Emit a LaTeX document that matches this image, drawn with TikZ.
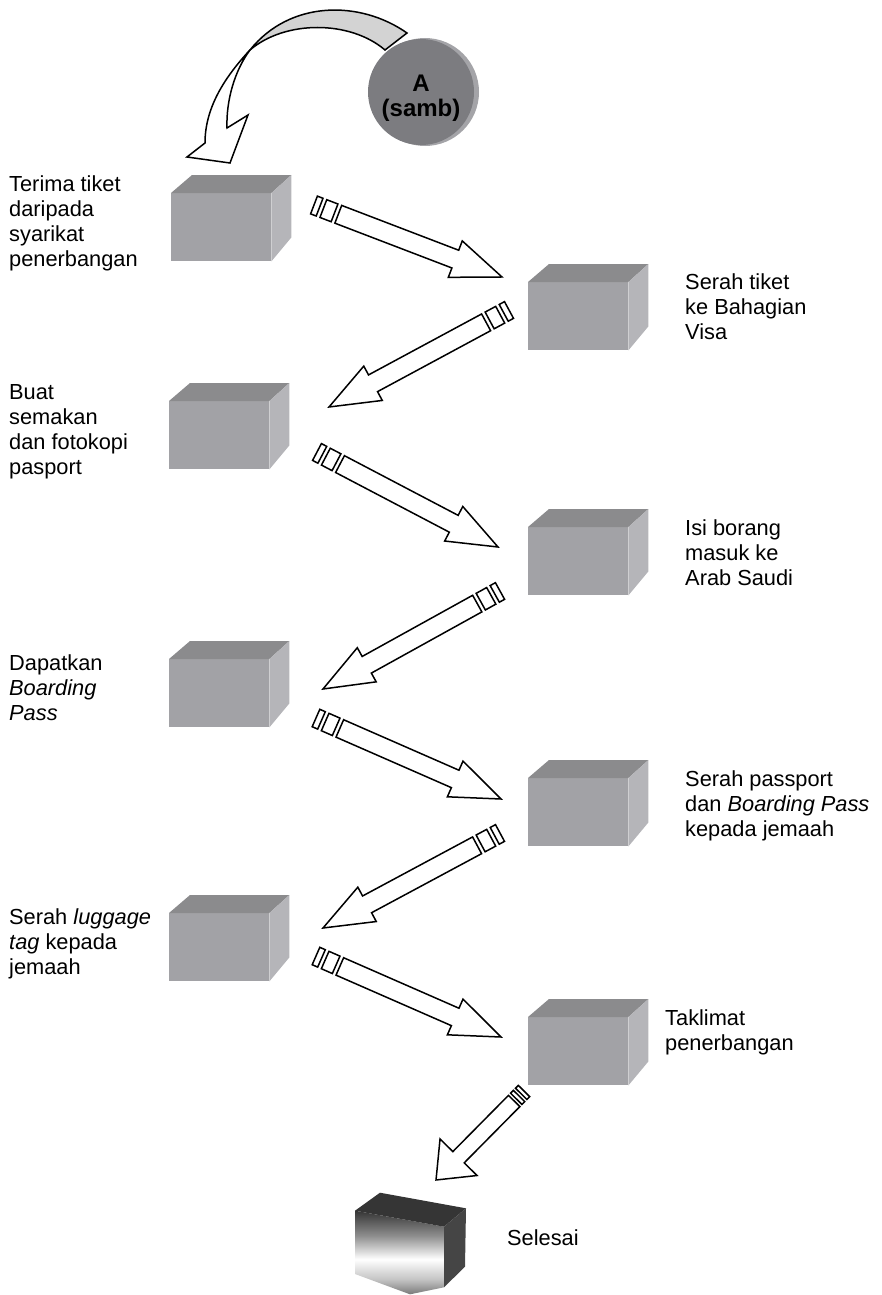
\documentclass[tikz,border=0pt]{standalone}
\usepackage{fontspec}
\setmainfont{Liberation Sans}
\usetikzlibrary{calc}

\definecolor{boxfront}{HTML}{A2A2A6}
\definecolor{boxtop}{HTML}{8B8B8D}
\definecolor{boxside}{HTML}{B5B5B9}
\definecolor{discgray}{HTML}{7C7C80}
\definecolor{discrim}{HTML}{A4A4A8}
\definecolor{ribbon}{HTML}{D3D3D3}
\definecolor{darkface}{HTML}{353535}
\definecolor{finlow}{HTML}{7A7A7A}
\definecolor{finmid}{HTML}{C4C4C4}
\definecolor{finhigh}{HTML}{8E8E8E}

% front face of the closing box: dark top, white band, grey foot
\pgfdeclareverticalshading{finfront}{100bp}{color(0bp)=(finlow); color(25bp)=(finlow);
  color(34bp)=(finmid); color(46bp)=(white); color(60bp)=(finhigh); color(75bp)=(darkface);
  color(100bp)=(darkface)}

\tikzset{
  lbl/.style={font=\fontsize{21.8}{25}\selectfont, align=left, inner sep=0pt, anchor=north west},
  frontface/.style={fill=boxfront, draw=none, minimum width=100pt, minimum height=68pt,
    inner sep=0pt, anchor=north west},
  arrowline/.style={draw=black, line width=1.5pt, fill=white, line join=miter},
}

% grey box: front face as a node, top and right faces drawn from its anchors
\newcommand\graybox[3]{%
  \node[frontface] (#1) at (#2,#3) {};
  \fill[boxtop] (#1.north west) -- ++(21,-18) -- ($(#1.north east)+(20,-18)$) -- (#1.north east) -- cycle;
  \fill[boxside] (#1.north east) -- ++(20,-18) -- ($(#1.south east)+(20,-24)$) -- (#1.south east) -- cycle;
}

% striped block arrow from a tail point to a tip point
% \aw shaft half width, \ahw head half width, \ahl head length,
% stripes at [\sa,\sb] and [\sc,\sd], shaft starts at \se
\def\aw{9.5}\def\ahw{19.5}\def\ahl{50}
\def\sa{0}\def\sb{6}\def\sc{10}\def\sd{22}\def\se{26}
\newcommand\stripearrow[2]{%
  \path let \p1=(#1), \p2=(#2) in \pgfextra{%
    \pgfmathsetmacro\tmpang{atan2(\y2-\y1,\x2-\x1)}%
    \pgfmathsetmacro\tmplen{veclen(\x2-\x1,\y2-\y1)}%
    \xdef\arang{\tmpang}\xdef\arlen{\tmplen}};
  \begin{scope}[shift={(#1)}, rotate=\arang, x=1pt, y=1pt]
    \draw[arrowline] (\sa,-\aw) rectangle (\sb,\aw);
    \draw[arrowline] (\sc,-\aw) rectangle (\sd,\aw);
    \draw[arrowline] (\se,-\aw) -- (\arlen-\ahl,-\aw) -- (\arlen-\ahl,-\ahw) -- (\arlen,0)
      -- (\arlen-\ahl,\ahw) -- (\arlen-\ahl,\aw) -- (\se,\aw) -- cycle;
  \end{scope}}

\begin{document}
\begin{tikzpicture}[x=1pt, y=-1pt]
\useasboundingbox (0,0) rectangle (882,1295);

% connector disc
\fill[discrim] (425,92) circle (54);
\node[circle, fill=discgray, minimum size=106pt, inner sep=0pt] (conA) at (421,92) {};
\node[font=\bfseries\fontsize{24}{25}\selectfont, align=center, inner sep=0pt] (conAtxt) at (421,98) {A\\(samb)};

% twisted curved arrow from the disc
\filldraw[fill=ribbon, draw=black, line width=1.5pt, line join=miter]
  (407,33) .. controls (360,0) and (290,0) .. (250,50)
  .. controls (285,20) and (350,20) .. (385,50) -- cycle;
\filldraw[fill=white, draw=black, line width=1.5pt, line join=miter]
  (250,50) .. controls (222,80) and (205,110) .. (205,143) -- (187,157) -- (230,163)
  -- (248,115) -- (227,128) .. controls (226,100) and (235,70) .. (250,50) -- cycle;

% process boxes
\graybox{b1}{171}{193}
\graybox{b2}{169}{401}
\graybox{b3}{169}{659}
\graybox{b4}{169}{913}
\graybox{r1}{528}{282}
\graybox{r2}{528}{527}
\graybox{r3}{528}{778}
\graybox{r4}{528}{1017}

% closing box
\shade[shading=finfront]
  (355,1210.7) -- (444,1226.7) -- (444,1287.3) -- (410,1294.3) -- (355,1274) -- cycle;
\fill[darkface] (355,1210.7) -- (380,1192.7) -- (466,1208.3) -- (444,1226.7) -- cycle;
\fill[darkface!92] (444,1226.7) -- (466,1208.3) -- (465,1266.7) -- (444,1287.3) -- cycle;

% labels
\node[lbl] (t1) at (9,176) {Terima tiket\\daripada\\syarikat\\penerbangan};
\node[lbl] (t2) at (9,384) {Buat\\semakan\\dan fotokopi\\pasport};
\node[lbl] (t3) at (9,654) {Dapatkan\\\textit{Boarding}\\\textit{Pass}};
\node[lbl] (t4) at (9,908) {Serah \textit{luggage}\\\textit{tag} kepada\\jemaah};
\node[lbl] (u1) at (685,274) {Serah tiket\\ke Bahagian\\Visa};
\node[lbl] (u2) at (685,519) {Isi borang\\masuk ke\\Arab Saudi};
\node[lbl] (u3) at (685,770) {Serah passport\\dan \textit{Boarding Pass}\\kepada jemaah};
\node[lbl] (u4) at (665,1009) {Taklimat\\penerbangan};
\node[lbl] (u5) at (507,1229) {Selesai};

% arrow end points
\coordinate (a1s) at (314,205);   \coordinate (a1e) at (502,277);
\coordinate (a2s) at (509,310);   \coordinate (a2e) at (329,407);
\coordinate (a3s) at (317,452);   \coordinate (a3e) at (498,547);
\coordinate (a4s) at (500,591);   \coordinate (a4e) at (323,689);
\coordinate (a5s) at (316,718);   \coordinate (a5e) at (501,799);
\coordinate (a6s) at (500,833);   \coordinate (a6e) at (323,928);
\coordinate (a7s) at (316,956);   \coordinate (a7e) at (501,1037);
\coordinate (a8s) at (524,1091);  \coordinate (a8e) at (436,1180);

\stripearrow{a1s}{a1e}
\stripearrow{a2s}{a2e}
\stripearrow{a3s}{a3e}
\stripearrow{a4s}{a4e}
\stripearrow{a5s}{a5e}
\stripearrow{a6s}{a6e}
\stripearrow{a7s}{a7e}
\begingroup
\def\aw{8}\def\ahw{26}\def\ahl{32}
\def\sa{0}\def\sb{4}\def\sc{7}\def\sd{11}\def\se{14}
\stripearrow{a8s}{a8e}
\endgroup
\end{tikzpicture}
\end{document}
